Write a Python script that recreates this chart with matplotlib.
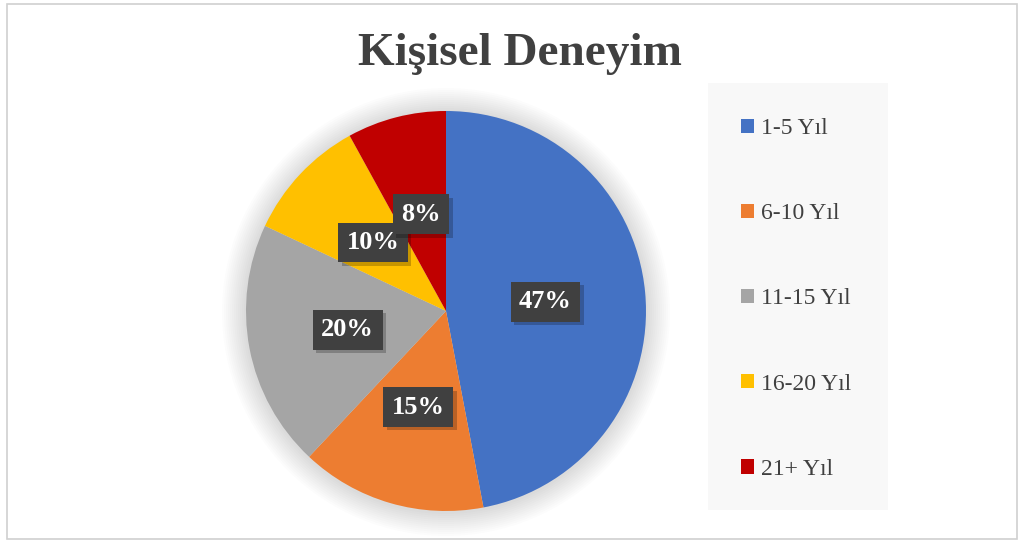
import matplotlib
matplotlib.use("Agg")
import matplotlib.pyplot as plt
from matplotlib.patches import Rectangle, Circle
import matplotlib.patheffects as pe
import numpy as np

plt.rcParams['font.family'] = ['Liberation Serif', 'DejaVu Serif']

title = "Kişisel Deneyim"
categories = ["1-5 Yıl", "6-10 Yıl", "11-15 Yıl", "16-20 Yıl", "21+ Yıl"]
values = [47, 15, 20, 10, 8]
colors = ["#4472C4", "#ED7D31", "#A5A5A5", "#FFC000", "#C00000"]

W, H = 1023, 542
fig = plt.figure(figsize=(W / 100, H / 100), dpi=100)
fig.patch.set_facecolor("white")

# outer border
fig.add_artist(Rectangle((7 / W, 3 / H), (1017 - 7) / W, (538 - 3) / H,
                         transform=fig.transFigure, fill=False,
                         edgecolor="#d0d0d0", linewidth=1.2))

# legend background box
fig.add_artist(Rectangle((708 / W, (H - 510) / H), (888 - 708) / W, (510 - 83) / H,
                         transform=fig.transFigure, facecolor="#f8f8f8",
                         edgecolor="none", zorder=0))

fig.text(520 / W, 1 - 54 / H, title, ha="center", va="center",
         fontsize=34, fontweight="bold", color="#404040")

cx, cy, r = 446, 311, 200
ax = fig.add_axes([(cx - r) / W, (H - cy - r) / H, 2 * r / W, 2 * r / H])
ax.axis("off")

# soft shadow around pie
for i in range(12):
    ax.add_patch(Circle((0.0, -0.005), 1.0 + 0.01 * (12 - i), facecolor="#000000",
                        alpha=0.01, edgecolor="none", zorder=0, clip_on=False))

wedges, texts = ax.pie(values, colors=colors, startangle=90, counterclock=False,
                       radius=1.0, labels=None, frame=False,
                       wedgeprops=dict(linewidth=0))
ax.set_xlim(-1, 1)
ax.set_ylim(-1, 1)
ax.set_aspect("auto")
for w in wedges:
    w.set_clip_on(False)

total = sum(values)
angle = 90.0
for v in values:
    span = 360.0 * v / total
    mid = np.deg2rad(angle - span / 2)
    angle -= span
    x, y = 0.5 * np.cos(mid), 0.5 * np.sin(mid)
    t = ax.text(x, y, f"{v}%", ha="center", va="center", fontsize=19,
                fontweight="bold", color="white", zorder=5,
                bbox=dict(boxstyle="square,pad=0.32", facecolor="#404040",
                          edgecolor="none"))
    t.get_bbox_patch().set_path_effects([
        pe.SimplePatchShadow(offset=(2.5, -2.5), shadow_rgbFace="#000000", alpha=0.22),
        pe.Normal()])

leg = fig.legend(wedges, categories, loc="upper left",
                 bbox_to_anchor=(741 / W, 1 - 118 / H), frameon=False,
                 fontsize=17, labelcolor="#404040", handlelength=0.55,
                 handleheight=0.55, handletextpad=0.3, labelspacing=2.72,
                 borderpad=0, borderaxespad=0)

fig.savefig("out.png", dpi=100)
